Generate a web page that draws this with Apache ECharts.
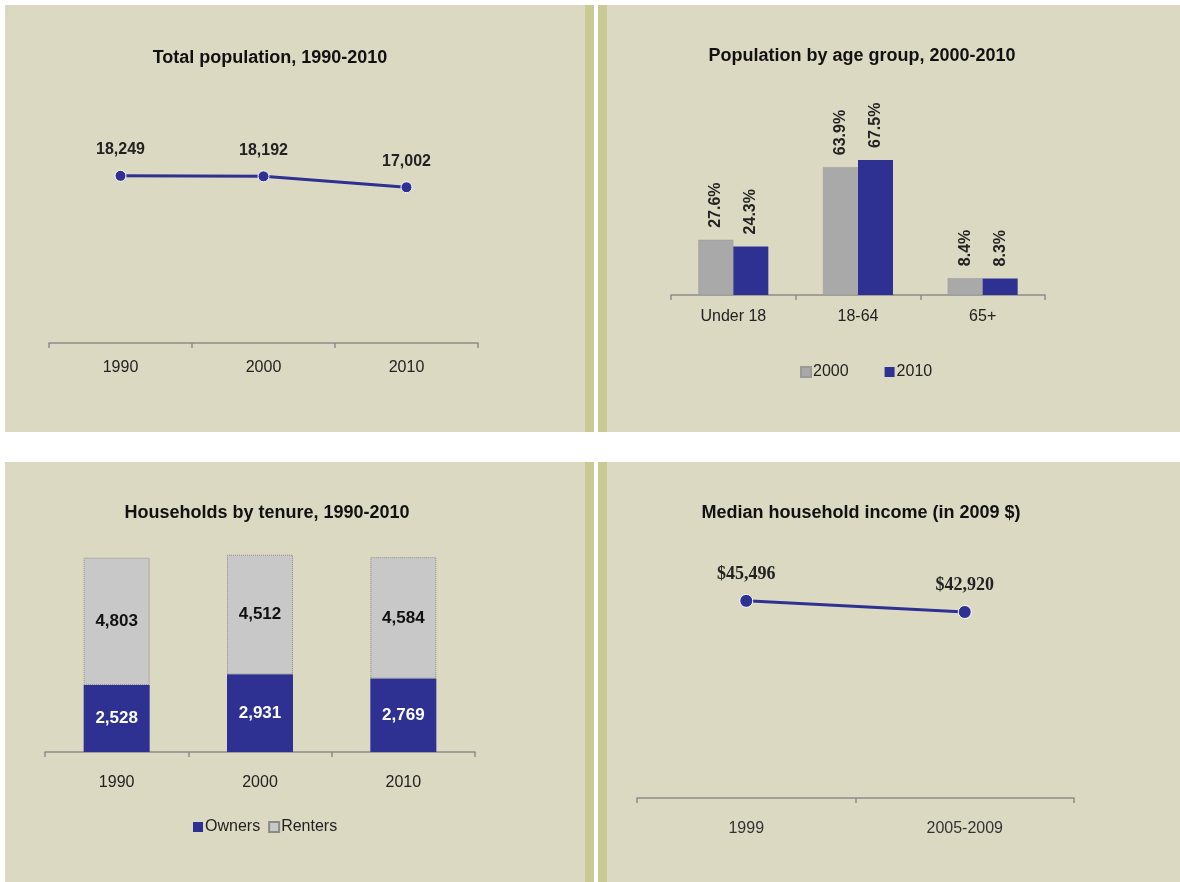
<!DOCTYPE html>
<html>
<head>
<meta charset="utf-8">
<title>Population and households</title>
<script src="https://cdn.jsdelivr.net/npm/echarts@6/dist/echarts.min.js"></script>
<style>
  html, body { margin: 0; padding: 0; background: #ffffff; }
  #chart { width: 1180px; height: 882px; }
</style>
</head>
<body>
<div id="chart"></div>
<script>
// data
var popYears = ['1990', '2000', '2010'];
var totalPop = [18249, 18192, 17002];

var ageGroups = ['Under 18', '18-64', '65+'];
var age2000 = [27.6, 63.9, 8.4];
var age2010 = [24.3, 67.5, 8.3];

var tenureYears = ['1990', '2000', '2010'];
var owners = [2528, 2931, 2769];
var renters = [4803, 4512, 4584];

var incomePeriods = ['1999', '2005-2009'];
var medianIncome = [45496, 42920];

var NAVY = '#2e3192';
var GREY = '#a9a9a9';
var LIGHT = '#c8c8c8';
var BEIGE = '#dcd9c3';
var OLIVE = '#c9c996';
var FONT = 'Liberation Sans, Arial, sans-serif';

function fmt(v) { return Number(v).toLocaleString('en-US'); }

function panel(x, y, w, h) {
    return { type: 'rect', z: 0, silent: true, shape: { x: x, y: y, width: w, height: h }, style: { fill: BEIGE } };
}
function strip(x, y, h) {
    return { type: 'rect', z: 0, silent: true, shape: { x: x, y: y, width: 9, height: h }, style: { fill: OLIVE } };
}

function title(text, cx, top) {
    return {
        text: text, left: cx, top: top, textAlign: 'center',
        textStyle: { fontFamily: FONT, fontSize: 18, fontWeight: 'bold', color: '#111' }
    };
}

function catAxis(idx, data, margin, color) {
    return {
        type: 'category', gridIndex: idx, data: data,
        axisLine: { lineStyle: { color: '#8c8c8c', width: 1.5 } },
        axisTick: { show: true, interval: 0, alignWithLabel: false, length: 5, lineStyle: { color: '#8c8c8c', width: 1.5 } },
        axisLabel: { fontFamily: FONT, fontSize: 16, color: color || '#222', margin: margin }
    };
}
function valAxis(idx, max) {
    return { type: 'value', gridIndex: idx, min: 0, max: max, show: false, splitLine: { show: false } };
}

var myChart = echarts.init(document.getElementById('chart'));
var option = {
    backgroundColor: '#ffffff',
    animation: false,
    graphic: [
        panel(5, 5, 580, 427), strip(585, 5, 427),
        panel(607, 5, 573, 427), strip(598, 5, 427),
        panel(5, 462, 580, 420), strip(585, 462, 420),
        panel(607, 462, 573, 420), strip(598, 462, 420)
    ],
    title: [
        title('Total population, 1990-2010', 265, 44),
        title('Population by age group, 2000-2010', 857, 42),
        title('Households by tenure, 1990-2010', 262, 499),
        title('Median household income (in 2009 $)', 856, 499)
    ],
    legend: [
        {
            data: ['2000', '2010'], left: 795, top: 359, itemWidth: 10, itemHeight: 10, itemGap: 36,
            icon: 'rect', textStyle: { fontFamily: FONT, fontSize: 16, color: '#222', padding: [0, 0, 0, -3] }
        },
        {
            data: ['Owners', 'Renters'], left: 188, top: 814, itemWidth: 10, itemHeight: 10, itemGap: 8,
            icon: 'rect', textStyle: { fontFamily: FONT, fontSize: 16, color: '#222', padding: [0, 0, 0, -3] }
        }
    ],
    grid: [
        { left: 49, top: 114, width: 429, height: 229 },
        { left: 671, top: 95, width: 374, height: 200 },
        { left: 45, top: 487, width: 430, height: 265 },
        { left: 637, top: 538, width: 437, height: 260 }
    ],
    xAxis: [
        catAxis(0, popYears, 17),
        catAxis(1, ageGroups, 14),
        catAxis(2, tenureYears, 23),
        catAxis(3, incomePeriods, 23, '#333')
    ],
    yAxis: [
        valAxis(0, 25000),
        valAxis(1, 100),
        valAxis(2, 10000),
        valAxis(3, 60000)
    ],
    series: [
        {
            name: 'Total population',
            type: 'line', xAxisIndex: 0, yAxisIndex: 0,
            data: totalPop,
            symbol: 'circle', symbolSize: 11,
            lineStyle: { color: NAVY, width: 3 },
            itemStyle: { color: NAVY, borderColor: '#ffffff', borderWidth: 1 },
            label: {
                show: true, position: 'top', distance: 12,
                fontFamily: FONT, fontSize: 16, fontWeight: 'bold', color: '#222',
                formatter: function (p) { return fmt(p.value); }
            }
        },
        {
            name: '2000',
            type: 'bar', xAxisIndex: 1, yAxisIndex: 1,
            data: age2000, barWidth: 35, barGap: '0%',
            itemStyle: { color: GREY, borderColor: '#999', borderWidth: 0.5 },
            label: {
                show: true, position: 'top', distance: 12, rotate: 90, align: 'left', verticalAlign: 'middle',
                fontFamily: FONT, fontSize: 16, fontWeight: 'bold', color: '#222',
                formatter: '{c}%'
            }
        },
        {
            name: '2010',
            type: 'bar', xAxisIndex: 1, yAxisIndex: 1,
            data: age2010, barWidth: 35, barGap: '0%',
            itemStyle: { color: NAVY },
            label: {
                show: true, position: 'top', distance: 12, rotate: 90, align: 'left', verticalAlign: 'middle',
                fontFamily: FONT, fontSize: 16, fontWeight: 'bold', color: '#222',
                formatter: '{c}%'
            }
        },
        {
            name: 'Owners',
            type: 'bar', xAxisIndex: 2, yAxisIndex: 2, stack: 'tenure',
            data: owners, barWidth: 66,
            itemStyle: { color: NAVY },
            label: {
                show: true, position: 'inside',
                fontFamily: FONT, fontSize: 17, fontWeight: 'bold', color: '#ffffff',
                formatter: function (p) { return fmt(p.value); }
            }
        },
        {
            name: 'Renters',
            type: 'bar', xAxisIndex: 2, yAxisIndex: 2, stack: 'tenure',
            data: renters, barWidth: 66,
            itemStyle: { color: LIGHT, borderColor: '#8a8a8a', borderWidth: 1, borderType: 'dotted' },
            label: {
                show: true, position: 'inside',
                fontFamily: FONT, fontSize: 17, fontWeight: 'bold', color: '#111',
                formatter: function (p) { return fmt(p.value); }
            }
        },
        {
            name: 'Median household income',
            type: 'line', xAxisIndex: 3, yAxisIndex: 3,
            data: medianIncome,
            symbol: 'circle', symbolSize: 13,
            lineStyle: { color: NAVY, width: 3 },
            itemStyle: { color: NAVY, borderColor: '#ffffff', borderWidth: 1 },
            label: {
                show: true, position: 'top', distance: 11,
                fontFamily: 'Liberation Serif, Times New Roman, serif', fontSize: 18, fontWeight: 'bold', color: '#222',
                formatter: function (p) { return '$' + fmt(p.value); }
            }
        }
    ]
};
myChart.setOption(option);
</script>
</body>
</html>
